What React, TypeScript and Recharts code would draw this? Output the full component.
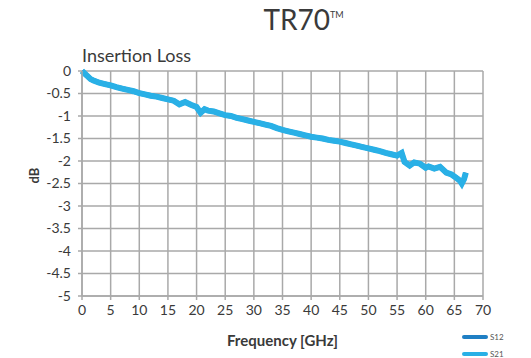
import React from 'react';
import { LineChart, Line, XAxis, YAxis, CartesianGrid, Label } from 'recharts';

// (GHz, dB)
const freqGHz = [
  0, 0.5, 1, 1.5, 2, 3, 4, 5, 6, 7, 8, 9, 10, 11, 12, 13, 14, 15, 16, 17, 18, 19, 20, 20.7, 21.4, 22, 23,
  24, 25, 26, 27, 28, 29, 30, 31, 32, 33, 34, 35, 36, 37, 38, 39, 40, 41, 42, 43, 44, 45, 46, 47, 48,
  49, 50, 51, 52, 53, 54, 55, 55.8, 56.3, 57.2, 58, 59, 60, 60.5, 61.5, 62.5, 63.6, 64.5, 65.4, 66, 66.3, 66.7, 67,
];
const s21 = [
  0, -0.06, -0.12, -0.18, -0.21, -0.26, -0.29, -0.32, -0.36, -0.39, -0.42, -0.45, -0.49, -0.52, -0.55, -0.57, -0.6, -0.63, -0.66, -0.74, -0.69, -0.75, -0.8, -0.93, -0.85, -0.88, -0.9,
  -0.94, -0.98, -1.0, -1.04, -1.07, -1.1, -1.13, -1.16, -1.19, -1.22, -1.27, -1.31, -1.34, -1.37, -1.4, -1.43, -1.46, -1.48, -1.5, -1.53, -1.55, -1.57, -1.6, -1.63, -1.66,
  -1.69, -1.72, -1.75, -1.78, -1.82, -1.85, -1.88, -1.82, -2.02, -2.1, -2.03, -2.06, -2.15, -2.12, -2.17, -2.13, -2.26, -2.3, -2.38, -2.44, -2.5, -2.4, -2.26,
];
// S12 sits underneath S21 in the picture
const s12 = s21;

const xTicks = [0, 5, 10, 15, 20, 25, 30, 35, 40, 45, 50, 55, 60, 65, 70];
const yTicks = [0, -0.5, -1, -1.5, -2, -2.5, -3, -3.5, -4, -4.5, -5];
const seriesNames = ['S12', 'S21'];
const seriesColors = ['#1f7fc4', '#29b0e6'];

const data = freqGHz.map((f, i) => ({ f, s12: s12[i], s21: s21[i] }));

const font = 'Lato, "Open Sans", sans-serif';
const textColor = '#3a3a3a';

export default function App() {
  return (
    <div style={{ position: 'absolute', left: 0, top: 0, width: 531, height: 358, background: '#fff', overflow: 'hidden' }}>
      <div style={{ position: 'absolute', left: 0, width: 531, top: 2, paddingLeft: 76, boxSizing: 'border-box', textAlign: 'center', fontFamily: font, fontSize: 28, color: textColor }}>
        TR70<sup style={{ fontSize: 9, verticalAlign: 'top', position: 'relative', top: 7 }}>TM</sup>
      </div>
      <div style={{ position: 'absolute', left: 82, top: 44, fontFamily: font, fontSize: 18, color: textColor }}>
        Insertion Loss
      </div>
      <div style={{ position: 'absolute', left: 462, top: 328, fontFamily: font, fontSize: 8, color: '#555' }}>
        {seriesNames.map((n, i) => (
          <div key={n} style={{ display: 'flex', alignItems: 'center', height: 17 }}>
            <span style={{ width: 26, height: 4, background: seriesColors[i], borderRadius: 2, marginRight: 2 }} />
            {n}
          </div>
        ))}
      </div>
      <LineChart width={531} height={358} data={data} margin={{ top: 71, right: 48, bottom: 32, left: 0 }}
        style={{ position: 'absolute', left: 0, top: 0 }}>
        <CartesianGrid stroke="#a9a9a9" strokeWidth={1.5} />
        <XAxis
          dataKey="f"
          type="number"
          domain={[0, 70]}
          ticks={xTicks}
          height={30}
          interval={0}
          stroke="#a9a9a9"
          strokeWidth={1.5}
          tickSize={4}
          tickMargin={5}
          tick={{ fill: textColor, fontSize: 14, fontFamily: font }}
        >
          <Label value="Frequency [GHz]" position="bottom" offset={9} style={{ fill: textColor, fontSize: 15, fontWeight: 700, fontFamily: font }} />
        </XAxis>
        <YAxis
          type="number"
          domain={[-5, 0]}
          ticks={yTicks}
          width={82}
          interval={0}
          stroke="#a9a9a9"
          strokeWidth={1.5}
          tickSize={4}
          tickMargin={7}
          tick={{ fill: textColor, fontSize: 14, fontFamily: font }}
        >
          <Label value="dB" angle={-90} position="insideLeft" offset={34} style={{ fill: textColor, fontSize: 13, fontWeight: 700, fontFamily: font }} />
        </YAxis>
        <Line type="linear" dataKey="s12" name={seriesNames[0]} stroke={seriesColors[0]} strokeWidth={5} dot={false} isAnimationActive={false} />
        <Line type="linear" dataKey="s21" name={seriesNames[1]} stroke={seriesColors[1]} strokeWidth={6} dot={false} isAnimationActive={false} />
      </LineChart>
    </div>
  );
}
